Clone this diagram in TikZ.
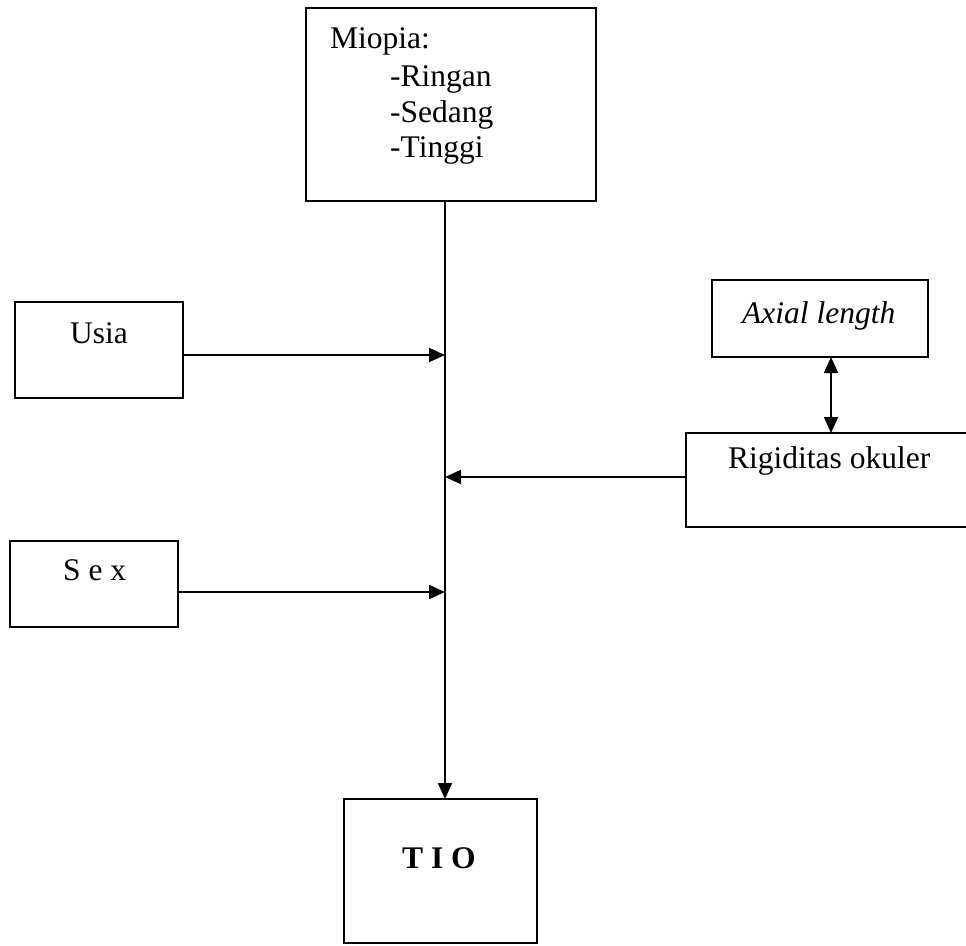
\documentclass[tikz,border=0pt]{standalone}
\usepackage{fontspec}
\setmainfont{Liberation Serif}
\usetikzlibrary{arrows.meta,calc}
\begin{document}
\begin{tikzpicture}[x=1pt,y=-1pt,
  box/.style={draw,line width=1.8pt,rectangle,anchor=north west,inner sep=0pt,outer sep=0pt},
  txt/.style={anchor=base west,inner sep=0pt,font=\fontsize{31.5}{38}\selectfont},
  tip/.style={Triangle[length=16pt,width=14pt]},
  conn/.style={line width=1.8pt,-{Triangle[length=16pt,width=14pt]}},
  dconn/.style={line width=1.8pt,{Triangle[length=16pt,width=14pt]}-{Triangle[length=16pt,width=14pt]}}]
\useasboundingbox (0,0) rectangle (966,945);
\clip (0,0) rectangle (966,945);
% boxes
\node[box,minimum width=290pt,minimum height=193pt] (miopia) at (306,8) {};
\node[box,minimum width=168pt,minimum height=96pt] (usia) at (15,302) {};
\node[box,minimum width=168pt,minimum height=86pt] (sex) at (10,541) {};
\node[box,minimum width=216pt,minimum height=77pt] (axial) at (712,280) {};
\node[box,minimum width=320pt,minimum height=94pt] (rig) at (686,433) {};
\node[box,minimum width=193pt,minimum height=144pt] (tio) at (344,799) {};
% texts
\node[txt] (tm) at (330,48) {Miopia:};
\node[txt] (tr) at (390,86) {-Ringan};
\node[txt] (ts) at (390,122) {-Sedang};
\node[txt] (tt) at (390,157) {-Tinggi};
\node[txt] (tu) at (70,343) {Usia};
\node[txt] (tx) at (63,580) {S e x};
\node[txt] (ta) at (742,323) {\itshape Axial length};
\node[txt] (tg) at (728,468) {Rigiditas okuler};
\node[txt] (ti) at (402,868) {\bfseries T I O};
% connectors
\coordinate (spine) at (445,0);
\coordinate (u) at (445,355);
\coordinate (r) at (445,477);
\coordinate (s) at (445,592);
\coordinate (dx) at (831,0);
\draw[conn] (miopia.south -| spine) -- (tio.north -| spine);
\draw[conn] (usia.east |- u) -- (u);
\draw[conn] (rig.west |- r) -- (r);
\draw[conn] (sex.east |- s) -- (s);
\draw[dconn] (axial.south -| dx) -- (rig.north -| dx);
\end{tikzpicture}
\end{document}
